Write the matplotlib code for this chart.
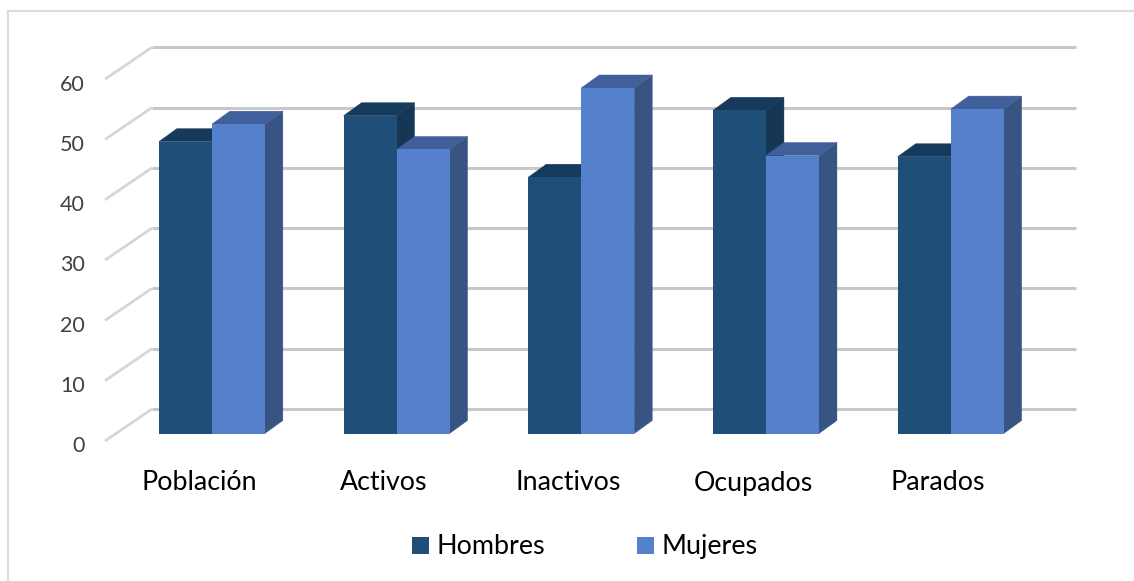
import matplotlib
matplotlib.use("Agg")
import matplotlib.pyplot as plt
from matplotlib.patches import Polygon, Rectangle
from matplotlib.lines import Line2D
from matplotlib.transforms import Affine2D

categories = ["Población", "Activos", "Inactivos", "Ocupados", "Parados"]
hombres = [48.4, 52.7, 42.5, 53.6, 45.9]
mujeres = [51.3, 47.1, 57.3, 46.1, 53.8]
yticks = [0, 10, 20, 30, 40, 50, 60]

W, H = 1134, 581
plt.rcParams['font.family'] = ['Lato', 'DejaVu Sans']
fig = plt.figure(figsize=(W/100, H/100), dpi=100)
fig.patch.set_facecolor('white')

# frame of the chart area: only the left and top edges show
fig.add_artist(Line2D([8/W, 8/W, 1], [0, 1-10.8/H, 1-10.8/H], transform=fig.transFigure,
                      color='#dcdcdc', lw=1.5, solid_joinstyle='miter'))

# axes = plane of the bar fronts
L, R, B, T = 119.5, 1043, 433.5, 433.5-60*6.03
ax = fig.add_axes([L/W, 1-B/H, (R-L)/W, (B-T)/H])
ax.set_xlim(0, 5)
ax.set_ylim(0, 60)
ax.axis('off')
px = 5/(R-L)        # data units per pixel, horizontally
py = 60/(B-T)       # data units per pixel, vertically

def shift(dx, dy):
    return ax.transData + Affine2D().translate(dx, dy)

# walls: back grid lines and left floor/wall diagonals
bdx, bdy = 32.5, 24.5
fdx, fdy = -14.5, -7.5
for v in yticks:
    ax.plot([0, 5], [v, v], transform=shift(bdx, bdy), color='#c8c8c8', lw=2.2,
            clip_on=False, zorder=1, solid_capstyle='butt')
    ax.plot([fdx*px, bdx*px], [v + fdy*py, v + bdy*py], color='#d6d6d6', lw=2.0,
            clip_on=False, zorder=1, solid_capstyle='butt')
    ax.text(0, v, str(v), transform=shift(-34.5, -18.8), ha='right', va='baseline',
            fontsize=15.5, color='#404040', clip_on=False)

# bars
bw = 53/184.7
ddx, ddy = 18*px, 13*py
series = [(hombres, -bw/2, '#1f4e79', '#163a5c', '#153655'),
          (mujeres, bw/2, '#5580cc', '#415f9a', '#375482')]
z = 2
for i in range(5):
    for vals, off, front, top, side in series:
        c = i + 0.5 + off
        v = vals[i]
        x0, x1 = c - bw/2, c + bw/2
        ax.add_patch(Polygon([(x1, 0), (x1, v), (x1 + ddx, v + ddy), (x1 + ddx, ddy)],
                             closed=True, fc=side, ec=side, lw=0.3, zorder=z, clip_on=False))
        ax.add_patch(Polygon([(x0, v), (x1, v), (x1 + ddx, v + ddy), (x0 + ddx, v + ddy)],
                             closed=True, fc=top, ec=top, lw=0.3, zorder=z, clip_on=False))
        ax.bar(c, v, width=bw, color=front, zorder=z + 0.5, clip_on=False)
        z += 1
    ax.text(i + 0.5, 0, categories[i], transform=shift(-13, -57), ha='center', va='baseline',
            fontsize=19.3, color='black', clip_on=False)

# legend
for x, lab, col in [(412, "Hombres", '#1f4e79'), (637, "Mujeres", '#5580cc')]:
    fig.add_artist(Rectangle((x/W, 1-554/H), 17/W, 17/H, transform=fig.transFigure, fc=col, ec='none'))
    fig.text((x+24.5)/W, 1-554/H, lab, ha='left', va='baseline', fontsize=19.4, color='black')

fig.savefig('out.png', dpi=100)
